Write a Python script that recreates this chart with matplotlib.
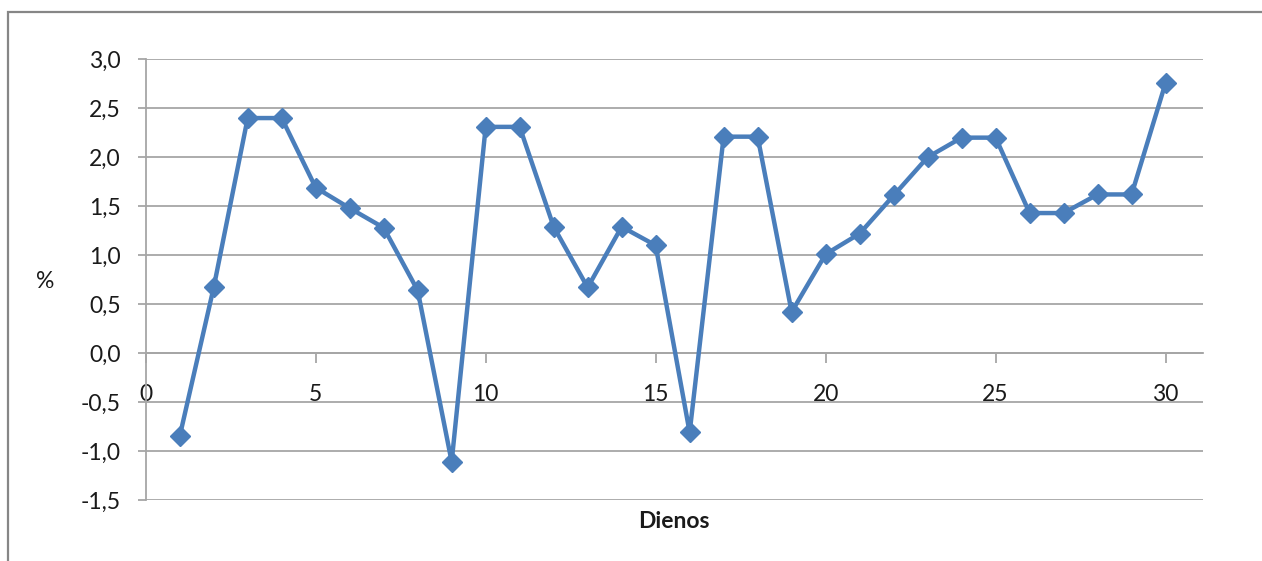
import numpy as np
import matplotlib.pyplot as plt
from matplotlib.patches import Rectangle

plt.rcParams['font.family'] = ['Lato', 'DejaVu Sans']

# dienos 1..30 and the daily change, %
dienos = np.arange(1, 31)
pokytis = [-0.85, 0.67, 2.40, 2.40, 1.69, 1.48, 1.28, 0.64, -1.11, 2.31,
           2.31, 1.29, 0.67, 1.29, 1.10, -0.81, 2.21, 2.21, 0.42, 1.01,
           1.22, 1.61, 2.00, 2.20, 2.20, 1.43, 1.43, 1.62, 1.62, 2.76]

x_ticks = [0, 5, 10, 15, 20, 25, 30]
y_ticks = np.arange(-1.5, 3.01, 0.5)

W, H = 1262, 561
fig = plt.figure(figsize=(W / 100, H / 100), dpi=100)
ax = fig.add_axes([145.7 / W, 1 - 500 / H, (1203 - 145.7) / W, (500 - 59.3) / H])

grey = '#a6a6a6'
txt = '#1a1a1a'
fs = 16.5

ax.plot(dienos, pokytis, color='#4a7ebb', lw=3.2, marker='D', ms=10.5,
        solid_joinstyle='round', zorder=3)

ax.set_xlim(0, 31.1)
ax.set_ylim(-1.5, 3.0)
ax.set_yticks(y_ticks)
ax.set_yticklabels([f'{v:.1f}'.replace('.', ',') for v in y_ticks])
ax.set_xticks(x_ticks)
ax.set_xticklabels([str(v) for v in x_ticks])

ax.grid(axis='y', color=grey, lw=1.3)
ax.set_axisbelow(True)
for s in ['top', 'right']:
    ax.spines[s].set_visible(False)
ax.spines['left'].set_color(grey)
ax.spines['left'].set_linewidth(1.3)
ax.spines['bottom'].set_position(('data', 0))
ax.spines['bottom'].set_color(grey)
ax.spines['bottom'].set_linewidth(1.3)

ax.tick_params(axis='y', direction='out', length=6, width=1.3, color=grey,
               pad=12, labelsize=fs, labelcolor=txt)
ax.tick_params(axis='x', direction='out', length=7, width=1.3, color=grey,
               pad=15, labelsize=fs, labelcolor=txt)

fig.text(674 / W, 1 - 522 / H, 'Dienos', ha='center', va='center',
         fontsize=fs, fontweight='bold', color=txt)
fig.text(45 / W, 1 - 281 / H, '%', ha='center', va='center',
         fontsize=fs, color=txt)

# chart frame
fig.add_artist(Rectangle((7.5 / W, -0.2), 1.2, 1.2 - 12 / H,
                         transform=fig.transFigure, fill=False,
                         edgecolor='#868686', lw=1.6, clip_on=False))

fig.savefig('out.png', dpi=100, facecolor='white')
